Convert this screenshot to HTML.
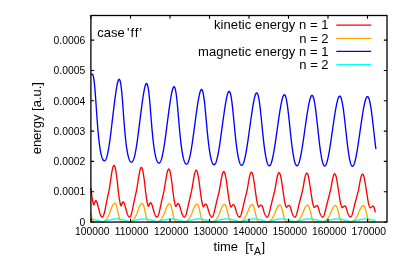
<!DOCTYPE html>
<html><head><meta charset="utf-8"><title>plot</title>
<style>
html,body{margin:0;padding:0;background:#fff;}
body{width:407px;height:271px;overflow:hidden;}
svg{display:block;will-change:transform;font-family:"Liberation Sans",sans-serif;}
.t{font-size:10.35px;fill:#000;}
.l{font-size:13px;fill:#000;}
.c{fill:none;stroke-width:1.35;stroke-linejoin:round;stroke-linecap:butt;}
</style></head><body>
<svg width="407" height="271" viewBox="0 0 407 271">
<rect x="0" y="0" width="407" height="271" fill="#fff"/>
<polyline class="c" stroke="#ff0000" points="90.90,187.83 91.15,190.12 91.40,192.34 91.65,194.42 91.90,196.31 92.15,197.97 92.40,199.39 92.65,200.82 92.90,202.20 93.15,203.40 93.40,204.31 93.65,204.79 93.90,204.74 94.15,204.23 94.40,203.48 94.65,202.71 94.90,202.12 95.15,201.56 95.40,201.03 95.65,200.66 95.90,200.58 96.15,200.77 96.40,201.13 96.65,201.60 96.90,202.09 97.15,202.76 97.40,203.62 97.65,204.60 97.90,205.65 98.15,206.70 98.40,207.72 98.65,208.63 98.90,209.55 99.15,210.50 99.40,211.45 99.65,212.37 99.90,213.23 100.15,214.00 100.40,214.65 100.65,215.16 100.90,215.61 101.15,216.03 101.40,216.40 101.65,216.73 101.90,216.98 102.15,217.20 102.40,217.09 102.65,216.84 102.90,216.49 103.15,216.07 103.40,215.58 103.65,215.06 103.90,214.40 104.15,213.56 104.40,212.60 104.65,211.54 104.90,210.45 105.15,209.34 105.40,208.10 105.65,206.75 105.90,205.41 106.15,204.14 106.40,202.88 106.65,201.62 106.90,200.39 107.15,199.18 107.40,197.99 107.65,196.81 107.90,195.65 108.15,194.49 108.40,193.40 108.65,192.33 108.90,191.21 109.15,189.99 109.40,188.58 109.65,186.94 109.90,185.17 110.15,183.39 110.40,181.70 110.65,180.01 110.90,178.31 111.15,176.61 111.40,174.97 111.65,173.42 111.90,171.98 112.15,170.68 112.40,169.39 112.65,168.23 112.90,167.30 113.15,166.67 113.40,166.11 113.65,165.67 113.90,165.42 114.15,165.45 114.40,165.74 114.65,166.21 114.90,166.79 115.15,167.49 115.40,168.58 115.65,169.93 115.90,171.40 116.15,172.90 116.40,174.55 116.65,176.34 116.90,178.26 117.15,180.28 117.40,182.41 117.65,184.86 117.90,187.50 118.15,189.91 118.40,192.02 118.65,194.07 118.90,196.00 119.15,197.76 119.40,199.31 119.65,200.63 119.90,201.95 120.15,203.23 120.40,204.36 120.65,205.23 120.90,205.73 121.15,205.75 121.40,205.33 121.65,204.66 121.90,203.94 122.15,203.37 122.40,202.87 122.65,202.36 122.90,201.99 123.15,201.87 123.40,202.01 123.65,202.33 123.90,202.75 124.15,203.19 124.40,203.78 124.65,204.54 124.90,205.42 125.15,206.38 125.40,207.36 125.65,208.30 125.90,209.15 126.15,209.99 126.40,210.86 126.65,211.73 126.90,212.59 127.15,213.39 127.40,214.12 127.65,214.74 127.90,215.23 128.15,215.65 128.40,216.04 128.65,216.40 128.90,216.71 129.15,216.95 129.40,217.13 129.65,217.13 129.90,216.91 130.15,216.59 130.40,216.19 130.65,215.74 130.90,215.24 131.15,214.63 131.40,213.84 131.65,212.92 131.90,211.91 132.15,210.85 132.40,209.78 132.65,208.63 132.90,207.36 133.15,206.06 133.40,204.83 133.65,203.62 133.90,202.42 134.15,201.24 134.40,200.07 134.65,198.93 134.90,197.80 135.15,196.68 135.40,195.57 135.65,194.49 135.90,193.45 136.15,192.39 136.40,191.25 136.65,189.98 136.90,188.52 137.15,186.91 137.40,185.25 137.65,183.63 137.90,182.03 138.15,180.39 138.40,178.74 138.65,177.13 138.90,175.59 139.15,174.16 139.40,172.87 139.65,171.63 139.90,170.46 140.15,169.49 140.40,168.81 140.65,168.26 140.90,167.79 141.15,167.48 141.40,167.41 141.65,167.61 141.90,168.01 142.15,168.53 142.40,169.13 142.65,170.05 142.90,171.27 143.15,172.65 143.40,174.07 143.65,175.60 143.90,177.28 144.15,179.08 144.40,180.98 144.65,182.98 144.90,185.14 145.15,187.58 145.40,189.96 145.65,192.02 145.90,194.00 146.15,195.89 146.40,197.67 146.65,199.27 146.90,200.65 147.15,201.92 147.40,203.16 147.65,204.30 147.90,205.25 148.15,205.91 148.40,206.18 148.65,206.01 148.90,205.52 149.15,204.90 149.40,204.32 149.65,203.88 149.90,203.40 150.15,203.00 150.40,202.77 150.65,202.78 150.90,202.97 151.15,203.28 151.40,203.64 151.65,204.07 151.90,204.68 152.15,205.43 152.40,206.27 152.65,207.16 152.90,208.08 153.15,208.97 153.40,209.81 153.65,210.68 153.90,211.54 154.15,212.37 154.40,213.16 154.65,213.89 154.90,214.53 155.15,215.06 155.40,215.49 155.65,215.88 155.90,216.25 156.15,216.57 156.40,216.85 156.65,217.06 156.90,217.19 157.15,217.04 157.40,216.77 157.65,216.42 157.90,216.00 158.15,215.53 158.40,215.01 158.65,214.31 158.90,213.47 159.15,212.51 159.40,211.49 159.65,210.44 159.90,209.39 160.15,208.21 160.40,206.96 160.65,205.73 160.90,204.56 161.15,203.40 161.40,202.26 161.65,201.13 161.90,200.02 162.15,198.92 162.40,197.83 162.65,196.76 162.90,195.69 163.15,194.66 163.40,193.64 163.65,192.59 163.90,191.45 164.15,190.17 164.40,188.74 164.65,187.22 164.90,185.67 165.15,184.15 165.40,182.58 165.65,180.98 165.90,179.38 166.15,177.83 166.40,176.36 166.65,175.03 166.90,173.81 167.15,172.63 167.40,171.56 167.65,170.73 167.90,170.15 168.15,169.64 168.40,169.24 168.65,169.02 168.90,169.05 169.15,169.33 169.40,169.77 169.65,170.30 169.90,170.96 170.15,171.97 170.40,173.22 170.65,174.58 170.90,175.97 171.15,177.51 171.40,179.17 171.65,180.95 171.90,182.82 172.15,184.75 172.40,186.91 172.65,189.21 172.90,191.36 173.15,193.28 173.40,195.15 173.65,196.95 173.90,198.64 174.15,200.16 174.40,201.47 174.65,202.70 174.90,203.85 175.15,204.90 175.40,205.75 175.65,206.31 175.90,206.49 176.15,206.29 176.40,205.84 176.65,205.29 176.90,204.82 177.15,204.41 177.40,203.99 177.65,203.66 177.90,203.50 178.15,203.53 178.40,203.70 178.65,203.96 178.90,204.26 179.15,204.68 179.40,205.26 179.65,205.96 179.90,206.72 180.15,207.56 180.40,208.45 180.65,209.34 180.90,210.20 181.15,211.07 181.40,211.92 181.65,212.70 181.90,213.44 182.15,214.12 182.40,214.72 182.65,215.21 182.90,215.62 183.15,215.99 183.40,216.34 183.65,216.65 183.90,216.90 184.15,217.10 184.40,217.17 184.65,216.99 184.90,216.71 185.15,216.34 185.40,215.92 185.65,215.46 185.90,214.91 186.15,214.18 186.40,213.31 186.65,212.34 186.90,211.32 187.15,210.30 187.40,209.24 187.65,208.08 187.90,206.87 188.15,205.68 188.40,204.55 188.65,203.43 188.90,202.33 189.15,201.24 189.40,200.16 189.65,199.10 189.90,198.04 190.15,196.99 190.40,195.95 190.65,194.95 190.90,193.94 191.15,192.90 191.40,191.79 191.65,190.56 191.90,189.21 192.15,187.78 192.40,186.32 192.65,184.85 192.90,183.31 193.15,181.74 193.40,180.17 193.65,178.65 193.90,177.22 194.15,175.93 194.40,174.75 194.65,173.61 194.90,172.59 195.15,171.81 195.40,171.27 195.65,170.78 195.90,170.40 196.15,170.21 196.40,170.27 196.65,170.55 196.90,170.99 197.15,171.52 197.40,172.18 197.65,173.19 197.90,174.42 198.15,175.75 198.40,177.11 198.65,178.62 198.90,180.25 199.15,181.99 199.40,183.81 199.65,185.68 199.90,187.74 200.15,189.91 200.40,191.94 200.65,193.79 200.90,195.58 201.15,197.33 201.40,199.00 201.65,200.50 201.90,201.81 202.15,203.01 202.40,204.10 202.65,205.10 202.90,205.93 203.15,206.50 203.40,206.72 203.65,206.60 203.90,206.22 204.15,205.75 204.40,205.34 204.65,204.96 204.90,204.58 205.15,204.27 205.40,204.12 205.65,204.12 205.90,204.23 206.15,204.42 206.40,204.67 206.65,205.03 206.90,205.54 207.15,206.17 207.40,206.86 207.65,207.64 207.90,208.51 208.15,209.40 208.40,210.29 208.65,211.18 208.90,212.02 209.15,212.78 209.40,213.49 209.65,214.14 209.90,214.72 210.15,215.21 210.40,215.62 210.65,215.99 210.90,216.33 211.15,216.63 211.40,216.89 211.65,217.09 211.90,217.17 212.15,217.00 212.40,216.73 212.65,216.38 212.90,215.97 213.15,215.52 213.40,214.98 213.65,214.27 213.90,213.42 214.15,212.47 214.40,211.47 214.65,210.46 214.90,209.44 215.15,208.32 215.40,207.14 215.65,205.99 215.90,204.89 216.15,203.81 216.40,202.74 216.65,201.69 216.90,200.65 217.15,199.61 217.40,198.59 217.65,197.57 217.90,196.56 218.15,195.57 218.40,194.58 218.65,193.57 218.90,192.51 219.15,191.37 219.40,190.12 219.65,188.80 219.90,187.43 220.15,186.03 220.40,184.54 220.65,183.01 220.90,181.47 221.15,179.97 221.40,178.55 221.65,177.26 221.90,176.11 222.15,174.99 222.40,173.98 222.65,173.17 222.90,172.63 223.15,172.14 223.40,171.75 223.65,171.53 223.90,171.54 224.15,171.78 224.40,172.18 224.65,172.68 224.90,173.28 225.15,174.20 225.40,175.36 225.65,176.64 225.90,177.94 226.15,179.38 226.40,180.94 226.65,182.61 226.90,184.36 227.15,186.15 227.40,188.07 227.65,190.09 227.90,192.06 228.15,193.85 228.40,195.59 228.65,197.30 228.90,198.95 229.15,200.49 229.40,201.84 229.65,203.04 229.90,204.10 230.15,205.09 230.40,205.94 230.65,206.59 230.90,206.94 231.15,206.97 231.40,206.73 231.65,206.34 231.90,205.96 232.15,205.63 232.40,205.27 232.65,204.97 232.90,204.78 233.15,204.71 233.40,204.75 233.65,204.86 233.90,205.04 234.15,205.30 234.40,205.71 234.65,206.24 234.90,206.84 235.15,207.52 235.40,208.35 235.65,209.24 235.90,210.14 236.15,211.05 236.40,211.91 236.65,212.67 236.90,213.36 237.15,214.01 237.40,214.59 237.65,215.09 237.90,215.51 238.15,215.89 238.40,216.23 238.65,216.54 238.90,216.81 239.15,217.04 239.40,217.19 239.65,217.07 239.90,216.83 240.15,216.51 240.40,216.12 240.65,215.68 240.90,215.20 241.15,214.54 241.40,213.73 241.65,212.80 241.90,211.82 242.15,210.82 242.40,209.83 242.65,208.75 242.90,207.61 243.15,206.47 243.40,205.37 243.65,204.30 243.90,203.26 244.15,202.23 244.40,201.20 244.65,200.18 244.90,199.17 245.15,198.17 245.40,197.17 245.65,196.18 245.90,195.20 246.15,194.22 246.40,193.20 246.65,192.13 246.90,190.99 247.15,189.78 247.40,188.51 247.65,187.17 247.90,185.75 248.15,184.25 248.40,182.72 248.65,181.20 248.90,179.75 249.15,178.41 249.40,177.23 249.65,176.12 249.90,175.06 250.15,174.17 250.40,173.54 250.65,173.04 250.90,172.60 251.15,172.30 251.40,172.20 251.65,172.34 251.90,172.67 252.15,173.13 252.40,173.64 252.65,174.39 252.90,175.44 253.15,176.65 253.40,177.92 253.65,179.26 253.90,180.74 254.15,182.34 254.40,184.02 254.65,185.76 254.90,187.54 255.15,189.43 255.40,191.35 255.65,193.16 255.90,194.87 256.15,196.55 256.40,198.22 256.65,199.82 256.90,201.29 257.15,202.56 257.40,203.67 257.65,204.66 257.90,205.57 258.15,206.33 258.40,206.88 258.65,207.13 258.90,207.10 259.15,206.84 259.40,206.51 259.65,206.20 259.90,205.88 260.15,205.57 260.40,205.32 260.65,205.18 260.90,205.13 261.15,205.15 261.40,205.24 261.65,205.39 261.90,205.67 262.15,206.08 262.40,206.59 262.65,207.15 262.90,207.86 263.15,208.71 263.40,209.63 263.65,210.57 263.90,211.48 264.15,212.31 264.40,213.01 264.65,213.66 264.90,214.26 265.15,214.80 265.40,215.27 265.65,215.67 265.90,216.03 266.15,216.36 266.40,216.65 266.65,216.90 266.90,217.11 267.15,217.20 267.40,216.99 267.65,216.72 267.90,216.37 268.15,215.96 268.40,215.52 268.65,214.97 268.90,214.25 269.15,213.38 269.40,212.42 269.65,211.42 269.90,210.43 270.15,209.43 270.40,208.34 270.65,207.21 270.90,206.09 271.15,205.02 271.40,203.98 271.65,202.96 271.90,201.95 272.15,200.95 272.40,199.95 272.65,198.96 272.90,197.96 273.15,196.97 273.40,196.00 273.65,195.02 273.90,194.03 274.15,193.02 274.40,191.97 274.65,190.88 274.90,189.72 275.15,188.49 275.40,187.17 275.65,185.74 275.90,184.24 276.15,182.71 276.40,181.21 276.65,179.79 276.90,178.50 277.15,177.37 277.40,176.27 277.65,175.27 277.90,174.45 278.15,173.89 278.40,173.40 278.65,173.00 278.90,172.75 279.15,172.72 279.40,172.91 279.65,173.27 279.90,173.74 280.15,174.28 280.40,175.10 280.65,176.18 280.90,177.41 281.15,178.66 281.40,180.02 281.65,181.52 281.90,183.12 282.15,184.79 282.40,186.50 282.65,188.25 282.90,190.07 283.15,191.89 283.40,193.62 283.65,195.29 283.90,196.93 284.15,198.58 284.40,200.17 284.65,201.62 284.90,202.87 285.15,203.91 285.40,204.86 285.65,205.73 285.90,206.47 286.15,206.99 286.40,207.25 286.65,207.25 286.90,207.03 287.15,206.75 287.40,206.48 287.65,206.18 287.90,205.91 288.15,205.69 288.40,205.56 288.65,205.48 288.90,205.46 289.15,205.50 289.40,205.62 289.65,205.87 289.90,206.25 290.15,206.72 290.40,207.23 290.65,207.93 290.90,208.80 291.15,209.75 291.40,210.72 291.65,211.64 291.90,212.45 292.15,213.12 292.40,213.75 292.65,214.34 292.90,214.86 293.15,215.31 293.40,215.71 293.65,216.06 293.90,216.39 294.15,216.68 294.40,216.93 294.65,217.13 294.90,217.20 295.15,216.96 295.40,216.68 295.65,216.32 295.90,215.91 296.15,215.47 296.40,214.91 296.65,214.16 296.90,213.27 297.15,212.30 297.40,211.30 297.65,210.32 297.90,209.31 298.15,208.23 298.40,207.11 298.65,206.01 298.90,204.95 299.15,203.94 299.40,202.93 299.65,201.94 299.90,200.95 300.15,199.96 300.40,198.98 300.65,198.00 300.90,197.02 301.15,196.04 301.40,195.07 301.65,194.08 301.90,193.08 302.15,192.08 302.40,191.04 302.65,189.95 302.90,188.78 303.15,187.49 303.40,186.08 303.65,184.58 303.90,183.06 304.15,181.56 304.40,180.14 304.65,178.85 304.90,177.73 305.15,176.64 305.40,175.65 305.65,174.84 305.90,174.28 306.15,173.80 306.40,173.40 306.65,173.15 306.90,173.11 307.15,173.30 307.40,173.66 307.65,174.12 307.90,174.64 308.15,175.45 308.40,176.51 308.65,177.72 308.90,178.95 309.15,180.29 309.40,181.77 309.65,183.35 309.90,185.00 310.15,186.69 310.40,188.39 310.65,190.12 310.90,191.87 311.15,193.55 311.40,195.19 311.65,196.80 311.90,198.45 312.15,200.06 312.40,201.53 312.65,202.81 312.90,203.85 313.15,204.78 313.40,205.65 313.65,206.40 313.90,206.98 314.15,207.32 314.40,207.41 314.65,207.27 314.90,207.05 315.15,206.81 315.40,206.54 315.65,206.29 315.90,206.08 316.15,205.93 316.40,205.81 316.65,205.73 316.90,205.71 317.15,205.77 317.40,205.96 317.65,206.28 317.90,206.68 318.15,207.13 318.40,207.77 318.65,208.62 318.90,209.58 319.15,210.58 319.40,211.54 319.65,212.38 319.90,213.05 320.15,213.67 320.40,214.24 320.65,214.77 320.90,215.23 321.15,215.64 321.40,216.00 321.65,216.33 321.90,216.62 322.15,216.88 322.40,217.10 322.65,217.20 322.90,217.00 323.15,216.74 323.40,216.40 323.65,216.00 323.90,215.57 324.15,215.04 324.40,214.32 324.65,213.45 324.90,212.50 325.15,211.50 325.40,210.51 325.65,209.53 325.90,208.48 326.15,207.39 326.40,206.31 326.65,205.26 326.90,204.26 327.15,203.28 327.40,202.30 327.65,201.33 327.90,200.36 328.15,199.40 328.40,198.44 328.65,197.47 328.90,196.50 329.15,195.54 329.40,194.57 329.65,193.59 329.90,192.62 330.15,191.66 330.40,190.66 330.65,189.59 330.90,188.38 331.15,187.02 331.40,185.56 331.65,184.05 331.90,182.55 332.15,181.12 332.40,179.80 332.65,178.65 332.90,177.58 333.15,176.57 333.40,175.72 333.65,175.10 333.90,174.62 334.15,174.20 334.40,173.91 334.65,173.80 334.90,173.92 335.15,174.23 335.40,174.65 335.65,175.14 335.90,175.83 336.15,176.81 336.40,177.96 336.65,179.17 336.90,180.44 337.15,181.85 337.40,183.38 337.65,184.98 337.90,186.62 338.15,188.27 338.40,189.91 338.65,191.56 338.90,193.21 339.15,194.81 339.40,196.37 339.65,197.99 339.90,199.62 340.15,201.15 340.40,202.51 340.65,203.63 340.90,204.53 341.15,205.41 341.40,206.20 341.65,206.87 341.90,207.34 342.15,207.59 342.40,207.59 342.65,207.45 342.90,207.26 343.15,207.03 343.40,206.79 343.65,206.58 343.90,206.42 344.15,206.26 344.40,206.12 344.65,206.03 344.90,206.01 345.15,206.09 345.40,206.31 345.65,206.63 345.90,207.01 346.15,207.49 346.40,208.25 346.65,209.18 346.90,210.20 347.15,211.21 347.40,212.12 347.65,212.83 347.90,213.45 348.15,214.02 348.40,214.56 348.65,215.04 348.90,215.47 349.15,215.85 349.40,216.18 349.65,216.49 349.90,216.77 350.15,217.01 350.40,217.19 350.65,217.09 350.90,216.87 351.15,216.56 351.40,216.18 351.65,215.76 351.90,215.31 352.15,214.66 352.40,213.85 352.65,212.92 352.90,211.93 353.15,210.93 353.40,209.96 353.65,208.95 353.90,207.88 354.15,206.80 354.40,205.74 354.65,204.73 354.90,203.76 355.15,202.79 355.40,201.84 355.65,200.88 355.90,199.92 356.15,198.97 356.40,198.01 356.65,197.05 356.90,196.08 357.15,195.11 357.40,194.14 357.65,193.19 357.90,192.27 358.15,191.35 358.40,190.39 358.65,189.31 358.90,188.05 359.15,186.65 359.40,185.17 359.65,183.65 359.90,182.17 360.15,180.78 360.40,179.53 360.65,178.45 360.90,177.41 361.15,176.46 361.40,175.71 361.65,175.19 361.90,174.73 362.15,174.36 362.40,174.13 362.65,174.12 362.90,174.33 363.15,174.69 363.40,175.14 363.65,175.67 363.90,176.48 364.15,177.53 364.40,178.71 364.65,179.91 364.90,181.24 365.15,182.69 365.40,184.24 365.65,185.85 365.90,187.47 366.15,189.07 366.40,190.63 366.65,192.22 366.90,193.81 367.15,195.36 367.40,196.92 367.65,198.55 367.90,200.16 368.15,201.66 368.40,202.96 368.65,203.95 368.90,204.82 369.15,205.66 369.40,206.42 369.65,207.05 369.90,207.51 370.15,207.74 370.40,207.74 370.65,207.63 370.90,207.45 371.15,207.25 371.40,207.04 371.65,206.86 371.90,206.69 372.15,206.50 372.40,206.33 372.65,206.21 372.90,206.17 373.15,206.26 373.40,206.47 373.65,206.76 373.90,207.09 374.15,207.63 374.40,208.44 374.65,209.43 374.90,210.49 375.15,211.51 375.40,212.37"/>
<polyline class="c" stroke="#ffa500" points="90.90,213.22 91.15,214.50 91.40,215.75 91.65,216.88 91.90,217.83 92.15,218.67 92.40,219.48 92.65,220.18 92.90,220.71 93.15,221.03 93.40,221.26 93.65,221.45 93.90,221.61 94.15,221.72 94.40,221.79 94.65,221.83 94.90,221.87 95.15,221.89 95.40,221.90 95.65,221.90 95.90,221.90 96.15,221.90 96.40,221.90 96.65,221.90 96.90,221.90 97.15,221.90 97.40,221.90 97.65,221.90 97.90,221.90 98.15,221.90 98.40,221.90 98.65,221.90 98.90,221.90 99.15,221.90 99.40,221.90 99.65,221.90 99.90,221.90 100.15,221.90 100.40,221.90 100.65,221.90 100.90,221.90 101.15,221.90 101.40,221.90 101.65,221.90 101.90,221.90 102.15,221.87 102.40,221.83 102.65,221.78 102.90,221.71 103.15,221.64 103.40,221.54 103.65,221.43 103.90,221.30 104.15,221.17 104.40,221.02 104.65,220.86 104.90,220.69 105.15,220.50 105.40,220.30 105.65,220.07 105.90,219.83 106.15,219.57 106.40,219.29 106.65,219.00 106.90,218.66 107.15,218.29 107.40,217.88 107.65,217.43 107.90,216.96 108.15,216.47 108.40,215.96 108.65,215.43 108.90,214.90 109.15,214.35 109.40,213.73 109.65,213.07 109.90,212.37 110.15,211.65 110.40,210.92 110.65,210.19 110.90,209.48 111.15,208.78 111.40,208.13 111.65,207.52 111.90,206.97 112.15,206.42 112.40,205.88 112.65,205.37 112.90,204.90 113.15,204.49 113.40,204.16 113.65,203.91 113.90,203.68 114.15,203.47 114.40,203.31 114.65,203.22 114.90,203.21 115.15,203.35 115.40,203.61 115.65,203.96 115.90,204.36 116.15,204.83 116.40,205.55 116.65,206.46 116.90,207.51 117.15,208.64 117.40,209.79 117.65,210.89 117.90,212.00 118.15,213.23 118.40,214.49 118.65,215.72 118.90,216.85 119.15,217.80 119.40,218.63 119.65,219.43 119.90,220.13 120.15,220.68 120.40,221.01 120.65,221.24 120.90,221.44 121.15,221.59 121.40,221.71 121.65,221.79 121.90,221.83 122.15,221.86 122.40,221.89 122.65,221.90 122.90,221.90 123.15,221.90 123.40,221.90 123.65,221.90 123.90,221.90 124.15,221.90 124.40,221.90 124.65,221.90 124.90,221.90 125.15,221.90 125.40,221.90 125.65,221.90 125.90,221.90 126.15,221.90 126.40,221.90 126.65,221.90 126.90,221.90 127.15,221.90 127.40,221.90 127.65,221.90 127.90,221.90 128.15,221.90 128.40,221.90 128.65,221.90 128.90,221.90 129.15,221.90 129.40,221.88 129.65,221.84 129.90,221.79 130.15,221.73 130.40,221.66 130.65,221.57 130.90,221.46 131.15,221.34 131.40,221.21 131.65,221.07 131.90,220.92 132.15,220.75 132.40,220.57 132.65,220.37 132.90,220.15 133.15,219.92 133.40,219.67 133.65,219.40 133.90,219.12 134.15,218.80 134.40,218.44 134.65,218.05 134.90,217.62 135.15,217.16 135.40,216.68 135.65,216.19 135.90,215.67 136.15,215.15 136.40,214.62 136.65,214.03 136.90,213.39 137.15,212.72 137.40,212.01 137.65,211.30 137.90,210.58 138.15,209.87 138.40,209.18 138.65,208.52 138.90,207.91 139.15,207.35 139.40,206.82 139.65,206.29 139.90,205.77 140.15,205.29 140.40,204.87 140.65,204.52 140.90,204.25 141.15,204.02 141.40,203.81 141.65,203.64 141.90,203.52 142.15,203.48 142.40,203.57 142.65,203.79 142.90,204.10 143.15,204.48 143.40,204.90 143.65,205.51 143.90,206.35 144.15,207.34 144.40,208.43 144.65,209.56 144.90,210.66 145.15,211.73 145.40,212.90 145.65,214.13 145.90,215.36 146.15,216.52 146.40,217.53 146.65,218.36 146.90,219.17 147.15,219.90 147.40,220.51 147.65,220.92 147.90,221.16 148.15,221.37 148.40,221.54 148.65,221.67 148.90,221.77 149.15,221.82 149.40,221.85 149.65,221.88 149.90,221.90 150.15,221.90 150.40,221.90 150.65,221.90 150.90,221.90 151.15,221.90 151.40,221.90 151.65,221.90 151.90,221.90 152.15,221.90 152.40,221.90 152.65,221.90 152.90,221.90 153.15,221.90 153.40,221.90 153.65,221.90 153.90,221.90 154.15,221.90 154.40,221.90 154.65,221.90 154.90,221.90 155.15,221.90 155.40,221.90 155.65,221.90 155.90,221.90 156.15,221.90 156.40,221.90 156.65,221.89 156.90,221.86 157.15,221.82 157.40,221.76 157.65,221.70 157.90,221.62 158.15,221.53 158.40,221.41 158.65,221.29 158.90,221.15 159.15,221.01 159.40,220.85 159.65,220.68 159.90,220.50 160.15,220.29 160.40,220.07 160.65,219.84 160.90,219.58 161.15,219.31 161.40,219.02 161.65,218.69 161.90,218.32 162.15,217.92 162.40,217.48 162.65,217.02 162.90,216.54 163.15,216.05 163.40,215.54 163.65,215.03 163.90,214.48 164.15,213.88 164.40,213.24 164.65,212.56 164.90,211.86 165.15,211.16 165.40,210.45 165.65,209.76 165.90,209.10 166.15,208.47 166.40,207.89 166.65,207.36 166.90,206.83 167.15,206.31 167.40,205.82 167.65,205.37 167.90,204.98 168.15,204.67 168.40,204.43 168.65,204.21 168.90,204.01 169.15,203.86 169.40,203.77 169.65,203.77 169.90,203.91 170.15,204.17 170.40,204.50 170.65,204.89 170.90,205.35 171.15,206.04 171.40,206.92 171.65,207.94 171.90,209.03 172.15,210.13 172.40,211.20 172.65,212.27 172.90,213.45 173.15,214.67 173.40,215.86 173.65,216.95 173.90,217.88 174.15,218.69 174.40,219.46 174.65,220.15 174.90,220.69 175.15,221.02 175.40,221.24 175.65,221.43 175.90,221.59 176.15,221.71 176.40,221.79 176.65,221.83 176.90,221.86 177.15,221.89 177.40,221.90 177.65,221.90 177.90,221.90 178.15,221.90 178.40,221.90 178.65,221.90 178.90,221.90 179.15,221.90 179.40,221.90 179.65,221.90 179.90,221.90 180.15,221.90 180.40,221.90 180.65,221.90 180.90,221.90 181.15,221.90 181.40,221.90 181.65,221.90 181.90,221.90 182.15,221.90 182.40,221.90 182.65,221.90 182.90,221.90 183.15,221.90 183.40,221.90 183.65,221.90 183.90,221.90 184.15,221.89 184.40,221.85 184.65,221.81 184.90,221.75 185.15,221.69 185.40,221.61 185.65,221.51 185.90,221.39 186.15,221.27 186.40,221.13 186.65,220.99 186.90,220.84 187.15,220.67 187.40,220.48 187.65,220.28 187.90,220.06 188.15,219.82 188.40,219.57 188.65,219.30 188.90,219.01 189.15,218.68 189.40,218.31 189.65,217.90 189.90,217.47 190.15,217.02 190.40,216.55 190.65,216.06 190.90,215.56 191.15,215.05 191.40,214.50 191.65,213.91 191.90,213.27 192.15,212.60 192.40,211.92 192.65,211.22 192.90,210.53 193.15,209.86 193.40,209.21 193.65,208.59 193.90,208.03 194.15,207.52 194.40,207.00 194.65,206.49 194.90,206.01 195.15,205.57 195.40,205.20 195.65,204.90 195.90,204.67 196.15,204.46 196.40,204.27 196.65,204.12 196.90,204.04 197.15,204.06 197.40,204.21 197.65,204.47 197.90,204.80 198.15,205.18 198.40,205.65 198.65,206.35 198.90,207.23 199.15,208.23 199.40,209.31 199.65,210.39 199.90,211.43 200.15,212.50 200.40,213.66 200.65,214.86 200.90,216.02 201.15,217.09 201.40,217.99 201.65,218.78 201.90,219.53 202.15,220.20 202.40,220.72 202.65,221.04 202.90,221.26 203.15,221.45 203.40,221.60 203.65,221.71 203.90,221.79 204.15,221.83 204.40,221.86 204.65,221.89 204.90,221.90 205.15,221.90 205.40,221.90 205.65,221.90 205.90,221.90 206.15,221.90 206.40,221.90 206.65,221.90 206.90,221.90 207.15,221.90 207.40,221.90 207.65,221.90 207.90,221.90 208.15,221.90 208.40,221.90 208.65,221.90 208.90,221.90 209.15,221.90 209.40,221.90 209.65,221.90 209.90,221.90 210.15,221.90 210.40,221.90 210.65,221.90 210.90,221.90 211.15,221.90 211.40,221.90 211.65,221.89 211.90,221.86 212.15,221.81 212.40,221.76 212.65,221.70 212.90,221.62 213.15,221.52 213.40,221.41 213.65,221.29 213.90,221.16 214.15,221.02 214.40,220.87 214.65,220.70 214.90,220.52 215.15,220.32 215.40,220.11 215.65,219.88 215.90,219.63 216.15,219.37 216.40,219.08 216.65,218.76 216.90,218.40 217.15,218.01 217.40,217.59 217.65,217.15 217.90,216.68 218.15,216.20 218.40,215.71 218.65,215.22 218.90,214.69 219.15,214.11 219.40,213.49 219.65,212.83 219.90,212.16 220.15,211.48 220.40,210.80 220.65,210.13 220.90,209.49 221.15,208.89 221.40,208.33 221.65,207.81 221.90,207.31 222.15,206.81 222.40,206.33 222.65,205.89 222.90,205.51 223.15,205.21 223.40,204.98 223.65,204.76 223.90,204.57 224.15,204.42 224.40,204.33 224.65,204.32 224.90,204.44 225.15,204.68 225.40,205.00 225.65,205.37 225.90,205.80 226.15,206.44 226.40,207.27 226.65,208.24 226.90,209.28 227.15,210.35 227.40,211.39 227.65,212.41 227.90,213.54 228.15,214.71 228.40,215.87 228.65,216.94 228.90,217.87 229.15,218.65 229.40,219.40 229.65,220.09 229.90,220.64 230.15,221.00 230.40,221.22 230.65,221.41 230.90,221.57 231.15,221.69 231.40,221.78 231.65,221.82 231.90,221.86 232.15,221.88 232.40,221.90 232.65,221.90 232.90,221.90 233.15,221.90 233.40,221.90 233.65,221.90 233.90,221.90 234.15,221.90 234.40,221.90 234.65,221.90 234.90,221.90 235.15,221.90 235.40,221.90 235.65,221.90 235.90,221.90 236.15,221.90 236.40,221.90 236.65,221.90 236.90,221.90 237.15,221.90 237.40,221.90 237.65,221.90 237.90,221.90 238.15,221.90 238.40,221.90 238.65,221.90 238.90,221.90 239.15,221.90 239.40,221.87 239.65,221.83 239.90,221.78 240.15,221.72 240.40,221.65 240.65,221.56 240.90,221.46 241.15,221.34 241.40,221.21 241.65,221.08 241.90,220.94 242.15,220.78 242.40,220.61 242.65,220.42 242.90,220.21 243.15,219.99 243.40,219.76 243.65,219.51 243.90,219.24 244.15,218.93 244.40,218.60 244.65,218.22 244.90,217.82 245.15,217.39 245.40,216.94 245.65,216.48 245.90,216.00 246.15,215.52 246.40,215.02 246.65,214.47 246.90,213.87 247.15,213.24 247.40,212.59 247.65,211.92 247.90,211.25 248.15,210.59 248.40,209.95 248.65,209.34 248.90,208.77 249.15,208.25 249.40,207.75 249.65,207.26 249.90,206.78 250.15,206.33 250.40,205.93 250.65,205.59 250.90,205.34 251.15,205.13 251.40,204.93 251.65,204.76 251.90,204.64 252.15,204.59 252.40,204.65 252.65,204.83 252.90,205.11 253.15,205.46 253.40,205.83 253.65,206.36 253.90,207.09 254.15,207.98 254.40,208.98 254.65,210.03 254.90,211.07 255.15,212.05 255.40,213.11 255.65,214.25 255.90,215.40 256.15,216.51 256.40,217.50 256.65,218.32 256.90,219.07 257.15,219.79 257.40,220.40 257.65,220.86 257.90,221.13 258.15,221.33 258.40,221.50 258.65,221.64 258.90,221.74 259.15,221.80 259.40,221.84 259.65,221.87 259.90,221.89 260.15,221.90 260.40,221.90 260.65,221.90 260.90,221.90 261.15,221.90 261.40,221.90 261.65,221.90 261.90,221.90 262.15,221.90 262.40,221.90 262.65,221.90 262.90,221.90 263.15,221.90 263.40,221.90 263.65,221.90 263.90,221.90 264.15,221.90 264.40,221.90 264.65,221.90 264.90,221.90 265.15,221.90 265.40,221.90 265.65,221.90 265.90,221.90 266.15,221.90 266.40,221.90 266.65,221.90 266.90,221.89 267.15,221.86 267.40,221.81 267.65,221.76 267.90,221.70 268.15,221.62 268.40,221.53 268.65,221.42 268.90,221.30 269.15,221.18 269.40,221.04 269.65,220.90 269.90,220.74 270.15,220.56 270.40,220.37 270.65,220.17 270.90,219.94 271.15,219.71 271.40,219.46 271.65,219.18 271.90,218.87 272.15,218.53 272.40,218.15 272.65,217.75 272.90,217.32 273.15,216.88 273.40,216.42 273.65,215.94 273.90,215.47 274.15,214.96 274.40,214.41 274.65,213.81 274.90,213.18 275.15,212.54 275.40,211.88 275.65,211.23 275.90,210.58 276.15,209.96 276.40,209.37 276.65,208.82 276.90,208.33 277.15,207.84 277.40,207.36 277.65,206.89 277.90,206.46 278.15,206.09 278.40,205.78 278.65,205.55 278.90,205.34 279.15,205.15 279.40,205.00 279.65,204.90 279.90,204.87 280.15,204.96 280.40,205.17 280.65,205.46 280.90,205.81 281.15,206.19 281.40,206.77 281.65,207.53 281.90,208.44 282.15,209.43 282.40,210.46 282.65,211.47 282.90,212.44 283.15,213.50 283.40,214.63 283.65,215.75 283.90,216.82 284.15,217.76 284.40,218.53 284.65,219.27 284.90,219.96 285.15,220.53 285.40,220.94 285.65,221.18 285.90,221.37 286.15,221.54 286.40,221.66 286.65,221.76 286.90,221.81 287.15,221.85 287.40,221.87 287.65,221.89 287.90,221.90 288.15,221.90 288.40,221.90 288.65,221.90 288.90,221.90 289.15,221.90 289.40,221.90 289.65,221.90 289.90,221.90 290.15,221.90 290.40,221.90 290.65,221.90 290.90,221.90 291.15,221.90 291.40,221.90 291.65,221.90 291.90,221.90 292.15,221.90 292.40,221.90 292.65,221.90 292.90,221.90 293.15,221.90 293.40,221.90 293.65,221.90 293.90,221.90 294.15,221.90 294.40,221.90 294.65,221.89 294.90,221.85 295.15,221.81 295.40,221.76 295.65,221.70 295.90,221.62 296.15,221.53 296.40,221.42 296.65,221.30 296.90,221.18 297.15,221.05 297.40,220.90 297.65,220.74 297.90,220.57 298.15,220.38 298.40,220.18 298.65,219.96 298.90,219.73 299.15,219.48 299.40,219.21 299.65,218.90 299.90,218.56 300.15,218.19 300.40,217.79 300.65,217.37 300.90,216.94 301.15,216.48 301.40,216.02 301.65,215.55 301.90,215.06 302.15,214.51 302.40,213.92 302.65,213.31 302.90,212.67 303.15,212.03 303.40,211.39 303.65,210.76 303.90,210.15 304.15,209.57 304.40,209.03 304.65,208.54 304.90,208.07 305.15,207.59 305.40,207.13 305.65,206.71 305.90,206.34 306.15,206.04 306.40,205.82 306.65,205.61 306.90,205.43 307.15,205.27 307.40,205.17 307.65,205.15 307.90,205.23 308.15,205.44 308.40,205.72 308.65,206.06 308.90,206.44 309.15,206.99 309.40,207.73 309.65,208.62 309.90,209.59 310.15,210.60 310.40,211.59 310.65,212.54 310.90,213.58 311.15,214.68 311.40,215.79 311.65,216.84 311.90,217.77 312.15,218.54 312.40,219.27 312.65,219.94 312.90,220.52 313.15,220.93 313.40,221.18 313.65,221.37 313.90,221.53 314.15,221.66 314.40,221.75 314.65,221.81 314.90,221.85 315.15,221.87 315.40,221.89 315.65,221.90 315.90,221.90 316.15,221.90 316.40,221.90 316.65,221.90 316.90,221.90 317.15,221.90 317.40,221.90 317.65,221.90 317.90,221.90 318.15,221.90 318.40,221.90 318.65,221.90 318.90,221.90 319.15,221.90 319.40,221.90 319.65,221.90 319.90,221.90 320.15,221.90 320.40,221.90 320.65,221.90 320.90,221.90 321.15,221.90 321.40,221.90 321.65,221.90 321.90,221.90 322.15,221.90 322.40,221.90 322.65,221.86 322.90,221.82 323.15,221.77 323.40,221.71 323.65,221.64 323.90,221.55 324.15,221.45 324.40,221.34 324.65,221.21 324.90,221.09 325.15,220.95 325.40,220.80 325.65,220.63 325.90,220.45 326.15,220.25 326.40,220.04 326.65,219.81 326.90,219.57 327.15,219.31 327.40,219.02 327.65,218.69 327.90,218.34 328.15,217.95 328.40,217.55 328.65,217.12 328.90,216.68 329.15,216.23 329.40,215.77 329.65,215.29 329.90,214.77 330.15,214.20 330.40,213.60 330.65,212.98 330.90,212.35 331.15,211.72 331.40,211.10 331.65,210.49 331.90,209.92 332.15,209.38 332.40,208.89 332.65,208.42 332.90,207.96 333.15,207.50 333.40,207.08 333.65,206.70 333.90,206.38 334.15,206.14 334.40,205.94 334.65,205.75 334.90,205.59 335.15,205.47 335.40,205.42 335.65,205.47 335.90,205.64 336.15,205.90 336.40,206.22 336.65,206.57 336.90,207.04 337.15,207.72 337.40,208.55 337.65,209.48 337.90,210.46 338.15,211.45 338.40,212.39 338.65,213.37 338.90,214.44 339.15,215.53 339.40,216.58 339.65,217.54 339.90,218.35 340.15,219.06 340.40,219.75 340.65,220.36 340.90,220.83 341.15,221.11 341.40,221.31 341.65,221.48 341.90,221.62 342.15,221.73 342.40,221.80 342.65,221.83 342.90,221.86 343.15,221.89 343.40,221.90 343.65,221.90 343.90,221.90 344.15,221.90 344.40,221.90 344.65,221.90 344.90,221.90 345.15,221.90 345.40,221.90 345.65,221.90 345.90,221.90 346.15,221.90 346.40,221.90 346.65,221.90 346.90,221.90 347.15,221.90 347.40,221.90 347.65,221.90 347.90,221.90 348.15,221.90 348.40,221.90 348.65,221.90 348.90,221.90 349.15,221.90 349.40,221.90 349.65,221.90 349.90,221.90 350.15,221.90 350.40,221.88 350.65,221.84 350.90,221.79 351.15,221.74 351.40,221.68 351.65,221.60 351.90,221.50 352.15,221.40 352.40,221.28 352.65,221.16 352.90,221.03 353.15,220.89 353.40,220.73 353.65,220.56 353.90,220.37 354.15,220.17 354.40,219.96 354.65,219.73 354.90,219.49 355.15,219.22 355.40,218.91 355.65,218.58 355.90,218.21 356.15,217.83 356.40,217.42 356.65,216.99 356.90,216.55 357.15,216.11 357.40,215.65 357.65,215.16 357.90,214.63 358.15,214.06 358.40,213.46 358.65,212.85 358.90,212.23 359.15,211.61 359.40,211.01 359.65,210.42 359.90,209.88 360.15,209.37 360.40,208.91 360.65,208.44 360.90,207.99 361.15,207.55 361.40,207.16 361.65,206.81 361.90,206.53 362.15,206.32 362.40,206.13 362.65,205.95 362.90,205.81 363.15,205.72 363.40,205.70 363.65,205.80 363.90,206.01 364.15,206.29 364.40,206.62 364.65,206.99 364.90,207.54 365.15,208.27 365.40,209.13 365.65,210.07 365.90,211.04 366.15,211.99 366.40,212.91 366.65,213.91 366.90,214.98 367.15,216.04 367.40,217.04 367.65,217.94 367.90,218.67 368.15,219.37 368.40,220.02 368.65,220.57 368.90,220.97 369.15,221.20 369.40,221.38 369.65,221.54 369.90,221.67 370.15,221.76 370.40,221.81 370.65,221.85 370.90,221.87 371.15,221.89 371.40,221.90 371.65,221.90 371.90,221.90 372.15,221.90 372.40,221.90 372.65,221.90 372.90,221.90 373.15,221.90 373.40,221.90 373.65,221.90 373.90,221.90 374.15,221.90 374.40,221.90 374.65,221.90 374.90,221.90 375.15,221.90 375.40,221.90"/>
<polyline class="c" stroke="#0000ff" points="90.90,74.87 91.15,74.62 91.40,74.42 91.65,74.27 91.90,74.16 92.15,74.11 92.40,74.14 92.65,74.39 92.90,74.88 93.15,75.63 93.40,76.65 93.65,77.95 93.90,79.54 94.15,81.43 94.40,83.62 94.65,86.11 94.90,88.87 95.15,91.88 95.40,95.11 95.65,98.52 95.90,102.06 96.15,105.68 96.40,109.32 96.65,112.95 96.90,116.51 97.15,119.97 97.40,123.31 97.65,126.50 97.90,129.53 98.15,132.39 98.40,135.08 98.65,137.60 98.90,139.96 99.15,142.14 99.40,144.17 99.65,146.05 99.90,147.78 100.15,149.38 100.40,150.84 100.65,152.18 100.90,153.41 101.15,154.52 101.40,155.53 101.65,156.43 101.90,157.25 102.15,157.97 102.40,158.60 102.65,159.16 102.90,159.63 103.15,160.02 103.40,160.34 103.65,160.58 103.90,160.75 104.15,160.84 104.40,160.86 104.65,160.81 104.90,160.68 105.15,160.47 105.40,160.18 105.65,159.81 105.90,159.36 106.15,158.81 106.40,158.18 106.65,157.46 106.90,156.65 107.15,155.75 107.40,154.75 107.65,153.66 107.90,152.47 108.15,151.20 108.40,149.84 108.65,148.39 108.90,146.87 109.15,145.26 109.40,143.59 109.65,141.85 109.90,140.04 110.15,138.18 110.40,136.27 110.65,134.32 110.90,132.32 111.15,130.29 111.40,128.23 111.65,126.15 111.90,124.04 112.15,121.93 112.40,119.81 112.65,117.68 112.90,115.55 113.15,113.44 113.40,111.33 113.65,109.24 113.90,107.17 114.15,105.13 114.40,103.12 114.65,101.14 114.90,99.21 115.15,97.32 115.40,95.49 115.65,93.72 115.90,92.01 116.15,90.37 116.40,88.81 116.65,87.34 116.90,85.95 117.15,84.67 117.40,83.51 117.65,82.46 117.90,81.54 118.15,80.76 118.40,80.13 118.65,79.67 118.90,79.39 119.15,79.30 119.40,79.40 119.65,79.71 119.90,80.25 120.15,81.03 120.40,82.07 120.65,83.36 120.90,84.93 121.15,86.78 121.40,88.90 121.65,91.29 121.90,93.92 122.15,96.79 122.40,99.85 122.65,103.08 122.90,106.41 123.15,109.81 123.40,113.23 123.65,116.62 123.90,119.96 124.15,123.20 124.40,126.33 124.65,129.32 124.90,132.17 125.15,134.86 125.40,137.39 125.65,139.76 125.90,141.98 126.15,144.05 126.40,145.97 126.65,147.75 126.90,149.40 127.15,150.92 127.40,152.32 127.65,153.60 127.90,154.77 128.15,155.84 128.40,156.81 128.65,157.69 128.90,158.48 129.15,159.19 129.40,159.81 129.65,160.35 129.90,160.83 130.15,161.22 130.40,161.54 130.65,161.80 130.90,161.98 131.15,162.10 131.40,162.14 131.65,162.12 131.90,162.03 132.15,161.87 132.40,161.63 132.65,161.32 132.90,160.93 133.15,160.47 133.40,159.92 133.65,159.29 133.90,158.57 134.15,157.77 134.40,156.89 134.65,155.91 134.90,154.85 135.15,153.71 135.40,152.48 135.65,151.17 135.90,149.79 136.15,148.33 136.40,146.80 136.65,145.20 136.90,143.55 137.15,141.83 137.40,140.07 137.65,138.26 137.90,136.40 138.15,134.51 138.40,132.59 138.65,130.64 138.90,128.67 139.15,126.68 139.40,124.68 139.65,122.67 139.90,120.66 140.15,118.65 140.40,116.65 140.65,114.65 140.90,112.67 141.15,110.71 141.40,108.77 141.65,106.86 141.90,104.99 142.15,103.15 142.40,101.35 142.65,99.60 142.90,97.91 143.15,96.27 143.40,94.70 143.65,93.19 143.90,91.77 144.15,90.43 144.40,89.18 144.65,88.03 144.90,86.98 145.15,86.06 145.40,85.25 145.65,84.59 145.90,84.07 146.15,83.71 146.40,83.52 146.65,83.52 146.90,83.69 147.15,84.07 147.40,84.66 147.65,85.47 147.90,86.51 148.15,87.80 148.40,89.32 148.65,91.10 148.90,93.11 149.15,95.36 149.40,97.83 149.65,100.49 149.90,103.32 150.15,106.29 150.40,109.36 150.65,112.48 150.90,115.64 151.15,118.78 151.40,121.87 151.65,124.90 151.90,127.83 152.15,130.65 152.40,133.35 152.65,135.92 152.90,138.35 153.15,140.65 153.40,142.81 153.65,144.83 153.90,146.72 154.15,148.48 154.40,150.12 154.65,151.64 154.90,153.04 155.15,154.33 155.40,155.52 155.65,156.61 155.90,157.60 156.15,158.49 156.40,159.30 156.65,160.02 156.90,160.66 157.15,161.23 157.40,161.71 157.65,162.12 157.90,162.45 158.15,162.71 158.40,162.90 158.65,163.01 158.90,163.05 159.15,163.02 159.40,162.92 159.65,162.74 159.90,162.49 160.15,162.15 160.40,161.74 160.65,161.25 160.90,160.68 161.15,160.03 161.40,159.29 161.65,158.47 161.90,157.57 162.15,156.58 162.40,155.51 162.65,154.37 162.90,153.14 163.15,151.84 163.40,150.47 163.65,149.03 163.90,147.52 164.15,145.96 164.40,144.33 164.65,142.66 164.90,140.94 165.15,139.18 165.40,137.37 165.65,135.54 165.90,133.67 166.15,131.79 166.40,129.88 166.65,127.96 166.90,126.02 167.15,124.08 167.40,122.14 167.65,120.21 167.90,118.27 168.15,116.35 168.40,114.45 168.65,112.57 168.90,110.70 169.15,108.87 169.40,107.07 169.65,105.31 169.90,103.59 170.15,101.92 170.40,100.30 170.65,98.74 170.90,97.24 171.15,95.81 171.40,94.46 171.65,93.19 171.90,92.00 172.15,90.92 172.40,89.93 172.65,89.06 172.90,88.31 173.15,87.69 173.40,87.21 173.65,86.89 173.90,86.72 174.15,86.72 174.40,86.90 174.65,87.27 174.90,87.83 175.15,88.59 175.40,89.57 175.65,90.76 175.90,92.18 176.15,93.82 176.40,95.68 176.65,97.74 176.90,100.01 177.15,102.45 177.40,105.06 177.65,107.79 177.90,110.63 178.15,113.54 178.40,116.48 178.65,119.44 178.90,122.37 179.15,125.26 179.40,128.08 179.65,130.81 179.90,133.45 180.15,135.98 180.40,138.40 180.65,140.69 180.90,142.87 181.15,144.92 181.40,146.84 181.65,148.65 181.90,150.34 182.15,151.92 182.40,153.38 182.65,154.74 182.90,155.99 183.15,157.14 183.40,158.20 183.65,159.16 183.90,160.03 184.15,160.81 184.40,161.50 184.65,162.11 184.90,162.64 185.15,163.09 185.40,163.45 185.65,163.74 185.90,163.95 186.15,164.08 186.40,164.13 186.65,164.11 186.90,164.01 187.15,163.83 187.40,163.57 187.65,163.23 187.90,162.81 188.15,162.31 188.40,161.73 188.65,161.06 188.90,160.32 189.15,159.49 189.40,158.58 189.65,157.59 189.90,156.52 190.15,155.38 190.40,154.16 190.65,152.87 190.90,151.51 191.15,150.09 191.40,148.61 191.65,147.07 191.90,145.47 192.15,143.83 192.40,142.14 192.65,140.42 192.90,138.65 193.15,136.86 193.40,135.04 193.65,133.20 193.90,131.34 194.15,129.47 194.40,127.59 194.65,125.70 194.90,123.81 195.15,121.93 195.40,120.05 195.65,118.18 195.90,116.34 196.15,114.51 196.40,112.70 196.65,110.93 196.90,109.18 197.15,107.48 197.40,105.82 197.65,104.20 197.90,102.64 198.15,101.13 198.40,99.68 198.65,98.31 198.90,97.00 199.15,95.78 199.40,94.64 199.65,93.59 199.90,92.65 200.15,91.81 200.40,91.09 200.65,90.49 200.90,90.02 201.15,89.70 201.40,89.53 201.65,89.51 201.90,89.66 202.15,89.98 202.40,90.47 202.65,91.16 202.90,92.03 203.15,93.11 203.40,94.39 203.65,95.86 203.90,97.54 204.15,99.40 204.40,101.45 204.65,103.67 204.90,106.04 205.15,108.54 205.40,111.15 205.65,113.84 205.90,116.58 206.15,119.35 206.40,122.13 206.65,124.88 206.90,127.60 207.15,130.25 207.40,132.84 207.65,135.34 207.90,137.74 208.15,140.05 208.40,142.24 208.65,144.33 208.90,146.31 209.15,148.17 209.40,149.93 209.65,151.58 209.90,153.11 210.15,154.55 210.40,155.88 210.65,157.11 210.90,158.24 211.15,159.27 211.40,160.21 211.65,161.06 211.90,161.82 212.15,162.50 212.40,163.08 212.65,163.58 212.90,163.99 213.15,164.32 213.40,164.57 213.65,164.73 213.90,164.81 214.15,164.81 214.40,164.73 214.65,164.57 214.90,164.32 215.15,163.99 215.40,163.58 215.65,163.08 215.90,162.50 216.15,161.84 216.40,161.10 216.65,160.28 216.90,159.37 217.15,158.39 217.40,157.33 217.65,156.20 217.90,155.00 218.15,153.72 218.40,152.38 218.65,150.98 218.90,149.52 219.15,148.00 219.40,146.44 219.65,144.82 219.90,143.17 220.15,141.47 220.40,139.74 220.65,137.98 220.90,136.20 221.15,134.39 221.40,132.57 221.65,130.73 221.90,128.89 222.15,127.04 222.40,125.19 222.65,123.34 222.90,121.50 223.15,119.68 223.40,117.87 223.65,116.07 223.90,114.31 224.15,112.57 224.40,110.86 224.65,109.19 224.90,107.56 225.15,105.98 225.40,104.45 225.65,102.97 225.90,101.55 226.15,100.20 226.40,98.92 226.65,97.72 226.90,96.60 227.15,95.57 227.40,94.64 227.65,93.81 227.90,93.09 228.15,92.48 228.40,92.00 228.65,91.66 228.90,91.46 229.15,91.40 229.40,91.50 229.65,91.76 229.90,92.18 230.15,92.77 230.40,93.54 230.65,94.50 230.90,95.63 231.15,96.95 231.40,98.45 231.65,100.12 231.90,101.97 232.15,103.97 232.40,106.13 232.65,108.41 232.90,110.81 233.15,113.29 233.40,115.85 233.65,118.46 233.90,121.09 234.15,123.73 234.40,126.35 234.65,128.94 234.90,131.48 235.15,133.97 235.40,136.38 235.65,138.70 235.90,140.94 236.15,143.09 236.40,145.13 236.65,147.08 236.90,148.92 237.15,150.66 237.40,152.30 237.65,153.83 237.90,155.26 238.15,156.59 238.40,157.82 238.65,158.96 238.90,159.99 239.15,160.93 239.40,161.78 239.65,162.53 239.90,163.19 240.15,163.76 240.40,164.25 240.65,164.64 240.90,164.94 241.15,165.16 241.40,165.28 241.65,165.32 241.90,165.28 242.15,165.15 242.40,164.93 242.65,164.62 242.90,164.23 243.15,163.75 243.40,163.19 243.65,162.55 243.90,161.82 244.15,161.01 244.40,160.12 244.65,159.16 244.90,158.11 245.15,157.00 245.40,155.81 245.65,154.56 245.90,153.24 246.15,151.86 246.40,150.42 246.65,148.93 246.90,147.39 247.15,145.80 247.40,144.18 247.65,142.51 247.90,140.81 248.15,139.08 248.40,137.32 248.65,135.55 248.90,133.75 249.15,131.95 249.40,130.13 249.65,128.31 249.90,126.49 250.15,124.67 250.40,122.86 250.65,121.07 250.90,119.28 251.15,117.52 251.40,115.78 251.65,114.06 251.90,112.38 252.15,110.74 252.40,109.13 252.65,107.57 252.90,106.06 253.15,104.60 253.40,103.20 253.65,101.87 253.90,100.60 254.15,99.41 254.40,98.29 254.65,97.27 254.90,96.33 255.15,95.49 255.40,94.76 255.65,94.14 255.90,93.64 256.15,93.26 256.40,93.01 256.65,92.90 256.90,92.95 257.15,93.13 257.40,93.48 257.65,93.97 257.90,94.64 258.15,95.46 258.40,96.45 258.65,97.61 258.90,98.94 259.15,100.43 259.40,102.08 259.65,103.88 259.90,105.83 260.15,107.90 260.40,110.09 260.65,112.38 260.90,114.76 261.15,117.20 261.40,119.68 261.65,122.20 261.90,124.73 262.15,127.25 262.40,129.74 262.65,132.20 262.90,134.61 263.15,136.97 263.40,139.25 263.65,141.45 263.90,143.57 264.15,145.61 264.40,147.55 264.65,149.39 264.90,151.14 265.15,152.79 265.40,154.34 265.65,155.79 265.90,157.13 266.15,158.38 266.40,159.53 266.65,160.58 266.90,161.54 267.15,162.39 267.40,163.15 267.65,163.82 267.90,164.38 268.15,164.85 268.40,165.22 268.65,165.51 268.90,165.69 269.15,165.79 269.40,165.79 269.65,165.70 269.90,165.52 270.15,165.25 270.40,164.90 270.65,164.45 270.90,163.92 271.15,163.30 271.40,162.60 271.65,161.82 271.90,160.95 272.15,160.01 272.40,158.99 272.65,157.90 272.90,156.75 273.15,155.52 273.40,154.23 273.65,152.88 273.90,151.47 274.15,150.01 274.40,148.51 274.65,146.95 274.90,145.36 275.15,143.73 275.40,142.06 275.65,140.37 275.90,138.65 276.15,136.91 276.40,135.15 276.65,133.38 276.90,131.60 277.15,129.82 277.40,128.04 277.65,126.25 277.90,124.48 278.15,122.72 278.40,120.97 278.65,119.24 278.90,117.53 279.15,115.85 279.40,114.20 279.65,112.58 279.90,111.01 280.15,109.47 280.40,107.99 280.65,106.55 280.90,105.17 281.15,103.86 281.40,102.61 281.65,101.43 281.90,100.33 282.15,99.30 282.40,98.37 282.65,97.52 282.90,96.78 283.15,96.14 283.40,95.61 283.65,95.19 283.90,94.90 284.15,94.73 284.40,94.70 284.65,94.80 284.90,95.04 285.15,95.41 285.40,95.94 285.65,96.61 285.90,97.44 286.15,98.41 286.40,99.54 286.65,100.83 286.90,102.25 287.15,103.82 287.40,105.53 287.65,107.36 287.90,109.32 288.15,111.38 288.40,113.53 288.65,115.76 288.90,118.06 289.15,120.40 289.40,122.78 289.65,125.18 289.90,127.59 290.15,129.98 290.40,132.35 290.65,134.68 290.90,136.97 291.15,139.20 291.40,141.37 291.65,143.46 291.90,145.48 292.15,147.42 292.40,149.26 292.65,151.02 292.90,152.68 293.15,154.25 293.40,155.72 293.65,157.09 293.90,158.36 294.15,159.53 294.40,160.60 294.65,161.57 294.90,162.44 295.15,163.21 295.40,163.88 295.65,164.44 295.90,164.91 296.15,165.28 296.40,165.55 296.65,165.73 296.90,165.81 297.15,165.79 297.40,165.67 297.65,165.46 297.90,165.16 298.15,164.77 298.40,164.29 298.65,163.72 298.90,163.06 299.15,162.32 299.40,161.50 299.65,160.60 299.90,159.62 300.15,158.57 300.40,157.45 300.65,156.26 300.90,155.01 301.15,153.70 301.40,152.32 301.65,150.90 301.90,149.42 302.15,147.90 302.40,146.34 302.65,144.74 302.90,143.11 303.15,141.44 303.40,139.75 303.65,138.03 303.90,136.30 304.15,134.56 304.40,132.80 304.65,131.04 304.90,129.27 305.15,127.51 305.40,125.75 305.65,124.00 305.90,122.26 306.15,120.54 306.40,118.84 306.65,117.17 306.90,115.52 307.15,113.91 307.40,112.34 307.65,110.80 307.90,109.31 308.15,107.87 308.40,106.49 308.65,105.16 308.90,103.90 309.15,102.70 309.40,101.57 309.65,100.53 309.90,99.56 310.15,98.68 310.40,97.90 310.65,97.21 310.90,96.62 311.15,96.14 311.40,95.78 311.65,95.53 311.90,95.41 312.15,95.42 312.40,95.56 312.65,95.83 312.90,96.23 313.15,96.77 313.40,97.44 313.65,98.26 313.90,99.22 314.15,100.32 314.40,101.55 314.65,102.92 314.90,104.42 315.15,106.05 315.40,107.80 315.65,109.65 315.90,111.61 316.15,113.65 316.40,115.78 316.65,117.97 316.90,120.22 317.15,122.51 317.40,124.83 317.65,127.16 317.90,129.49 318.15,131.82 318.40,134.12 318.65,136.39 318.90,138.62 319.15,140.79 319.40,142.91 319.65,144.96 319.90,146.93 320.15,148.82 320.40,150.63 320.65,152.35 320.90,153.97 321.15,155.50 321.40,156.93 321.65,158.26 321.90,159.48 322.15,160.60 322.40,161.62 322.65,162.53 322.90,163.33 323.15,164.03 323.40,164.62 323.65,165.11 323.90,165.49 324.15,165.77 324.40,165.94 324.65,166.01 324.90,165.98 325.15,165.85 325.40,165.63 325.65,165.30 325.90,164.88 326.15,164.37 326.40,163.77 326.65,163.08 326.90,162.31 327.15,161.46 327.40,160.52 327.65,159.51 327.90,158.43 328.15,157.28 328.40,156.06 328.65,154.78 328.90,153.44 329.15,152.05 329.40,150.61 329.65,149.11 329.90,147.58 330.15,146.00 330.40,144.39 330.65,142.75 330.90,141.08 331.15,139.38 331.40,137.67 331.65,135.94 331.90,134.20 332.15,132.45 332.40,130.69 332.65,128.94 332.90,127.19 333.15,125.44 333.40,123.71 333.65,121.99 333.90,120.30 334.15,118.62 334.40,116.98 334.65,115.36 334.90,113.78 335.15,112.24 335.40,110.74 335.65,109.29 335.90,107.89 336.15,106.55 336.40,105.27 336.65,104.05 336.90,102.90 337.15,101.82 337.40,100.82 337.65,99.90 337.90,99.07 338.15,98.34 338.40,97.70 338.65,97.16 338.90,96.72 339.15,96.40 339.40,96.19 339.65,96.10 339.90,96.14 340.15,96.29 340.40,96.56 340.65,96.97 340.90,97.49 341.15,98.15 341.40,98.94 341.65,99.85 341.90,100.90 342.15,102.07 342.40,103.36 342.65,104.78 342.90,106.31 343.15,107.96 343.40,109.71 343.65,111.56 343.90,113.49 344.15,115.51 344.40,117.60 344.65,119.75 344.90,121.95 345.15,124.18 345.40,126.45 345.65,128.73 345.90,131.01 346.15,133.29 346.40,135.55 346.65,137.78 346.90,139.98 347.15,142.12 347.40,144.21 347.65,146.23 347.90,148.19 348.15,150.06 348.40,151.85 348.65,153.55 348.90,155.15 349.15,156.65 349.40,158.06 349.65,159.35 349.90,160.54 350.15,161.62 350.40,162.59 350.65,163.45 350.90,164.19 351.15,164.82 351.40,165.34 351.65,165.75 351.90,166.04 352.15,166.23 352.40,166.31 352.65,166.28 352.90,166.14 353.15,165.91 353.40,165.57 353.65,165.14 353.90,164.61 354.15,163.99 354.40,163.28 354.65,162.48 354.90,161.60 355.15,160.64 355.40,159.61 355.65,158.50 355.90,157.33 356.15,156.08 356.40,154.78 356.65,153.42 356.90,152.01 357.15,150.55 357.40,149.04 357.65,147.49 357.90,145.90 358.15,144.28 358.40,142.62 358.65,140.94 358.90,139.24 359.15,137.52 359.40,135.79 359.65,134.05 359.90,132.30 360.15,130.55 360.40,128.79 360.65,127.05 360.90,125.31 361.15,123.59 361.40,121.89 361.65,120.20 361.90,118.54 362.15,116.91 362.40,115.32 362.65,113.76 362.90,112.24 363.15,110.76 363.40,109.34 363.65,107.97 363.90,106.65 364.15,105.40 364.40,104.21 364.65,103.10 364.90,102.05 365.15,101.09 365.40,100.21 365.65,99.41 365.90,98.70 366.15,98.09 366.40,97.58 366.65,97.17 366.90,96.87 367.15,96.68 367.40,96.60 367.65,96.64 367.90,96.79 368.15,97.06 368.40,97.44 368.65,97.94 368.90,98.56 369.15,99.30 369.40,100.16 369.65,101.14 369.90,102.23 370.15,103.44 370.40,104.76 370.65,106.20 370.90,107.73 371.15,109.37 371.40,111.11 371.65,112.93 371.90,114.84 372.15,116.82 372.40,118.87 372.65,120.97 372.90,123.13 373.15,125.33 373.40,127.55 373.65,129.79 373.90,132.05 374.15,134.30 374.40,136.53 374.65,138.75 374.90,140.93 375.15,143.06 375.40,145.14 375.65,147.16 375.90,149.11"/>
<polyline class="c" stroke="#00ffff" points="90.90,218.97 91.15,218.99 91.40,219.02 91.65,219.05 91.90,219.08 92.15,219.11 92.40,219.15 92.65,219.18 92.90,219.22 93.15,219.27 93.40,219.31 93.65,219.36 93.90,219.41 94.15,219.47 94.40,219.52 94.65,219.58 94.90,219.64 95.15,219.70 95.40,219.77 95.65,219.83 95.90,219.90 96.15,219.97 96.40,220.04 96.65,220.11 96.90,220.18 97.15,220.26 97.40,220.33 97.65,220.41 97.90,220.48 98.15,220.56 98.40,220.64 98.65,220.72 98.90,220.80 99.15,220.88 99.40,220.96 99.65,221.03 99.90,221.11 100.15,221.19 100.40,221.27 100.65,221.34 100.90,221.42 101.15,221.49 101.40,221.57 101.65,221.64 101.90,221.70 102.15,221.77 102.40,221.83 102.65,221.88 102.90,221.89 103.15,221.84 103.40,221.78 103.65,221.72 103.90,221.65 104.15,221.58 104.40,221.51 104.65,221.44 104.90,221.36 105.15,221.29 105.40,221.21 105.65,221.13 105.90,221.05 106.15,220.97 106.40,220.89 106.65,220.82 106.90,220.74 107.15,220.66 107.40,220.58 107.65,220.50 107.90,220.43 108.15,220.35 108.40,220.27 108.65,220.20 108.90,220.13 109.15,220.06 109.40,219.99 109.65,219.92 109.90,219.85 110.15,219.78 110.40,219.72 110.65,219.66 110.90,219.60 111.15,219.54 111.40,219.48 111.65,219.43 111.90,219.38 112.15,219.33 112.40,219.28 112.65,219.24 112.90,219.20 113.15,219.16 113.40,219.12 113.65,219.09 113.90,219.05 114.15,219.03 114.40,219.00 114.65,218.98 114.90,218.96 115.15,218.94 115.40,218.93 115.65,218.92 115.90,218.91 116.15,218.90 116.40,218.90 116.65,218.90 116.90,218.90 117.15,218.91 117.40,218.92 117.65,218.93 117.90,218.95 118.15,218.97 118.40,218.99 118.65,219.01 118.90,219.04 119.15,219.07 119.40,219.10 119.65,219.14 119.90,219.17 120.15,219.21 120.40,219.26 120.65,219.30 120.90,219.35 121.15,219.40 121.40,219.45 121.65,219.51 121.90,219.57 122.15,219.62 122.40,219.69 122.65,219.75 122.90,219.81 123.15,219.88 123.40,219.95 123.65,220.02 123.90,220.09 124.15,220.16 124.40,220.23 124.65,220.31 124.90,220.38 125.15,220.46 125.40,220.54 125.65,220.62 125.90,220.69 126.15,220.77 126.40,220.85 126.65,220.93 126.90,221.01 127.15,221.09 127.40,221.17 127.65,221.24 127.90,221.32 128.15,221.40 128.40,221.47 128.65,221.54 128.90,221.61 129.15,221.68 129.40,221.75 129.65,221.81 129.90,221.86 130.15,221.90 130.40,221.85 130.65,221.80 130.90,221.74 131.15,221.67 131.40,221.61 131.65,221.54 131.90,221.46 132.15,221.39 132.40,221.31 132.65,221.24 132.90,221.16 133.15,221.08 133.40,221.00 133.65,220.92 133.90,220.85 134.15,220.77 134.40,220.69 134.65,220.61 134.90,220.53 135.15,220.46 135.40,220.38 135.65,220.30 135.90,220.23 136.15,220.16 136.40,220.08 136.65,220.01 136.90,219.94 137.15,219.88 137.40,219.81 137.65,219.75 137.90,219.68 138.15,219.62 138.40,219.56 138.65,219.51 138.90,219.45 139.15,219.40 139.40,219.35 139.65,219.30 139.90,219.26 140.15,219.21 140.40,219.17 140.65,219.14 140.90,219.10 141.15,219.07 141.40,219.04 141.65,219.01 141.90,218.99 142.15,218.97 142.40,218.95 142.65,218.93 142.90,218.92 143.15,218.91 143.40,218.90 143.65,218.90 143.90,218.90 144.15,218.90 144.40,218.91 144.65,218.92 144.90,218.93 145.15,218.94 145.40,218.96 145.65,218.98 145.90,219.00 146.15,219.03 146.40,219.05 146.65,219.08 146.90,219.12 147.15,219.15 147.40,219.19 147.65,219.24 147.90,219.28 148.15,219.33 148.40,219.37 148.65,219.43 148.90,219.48 149.15,219.53 149.40,219.59 149.65,219.65 149.90,219.71 150.15,219.78 150.40,219.84 150.65,219.91 150.90,219.98 151.15,220.05 151.40,220.12 151.65,220.19 151.90,220.27 152.15,220.34 152.40,220.42 152.65,220.49 152.90,220.57 153.15,220.65 153.40,220.73 153.65,220.81 153.90,220.89 154.15,220.96 154.40,221.04 154.65,221.12 154.90,221.20 155.15,221.28 155.40,221.35 155.65,221.43 155.90,221.50 156.15,221.57 156.40,221.64 156.65,221.71 156.90,221.77 157.15,221.83 157.40,221.88 157.65,221.88 157.90,221.83 158.15,221.78 158.40,221.71 158.65,221.65 158.90,221.58 159.15,221.51 159.40,221.44 159.65,221.36 159.90,221.29 160.15,221.21 160.40,221.13 160.65,221.05 160.90,220.98 161.15,220.90 161.40,220.82 161.65,220.74 161.90,220.66 162.15,220.58 162.40,220.51 162.65,220.43 162.90,220.35 163.15,220.28 163.40,220.21 163.65,220.13 163.90,220.06 164.15,219.99 164.40,219.92 164.65,219.86 164.90,219.79 165.15,219.73 165.40,219.66 165.65,219.60 165.90,219.55 166.15,219.49 166.40,219.44 166.65,219.39 166.90,219.34 167.15,219.29 167.40,219.24 167.65,219.20 167.90,219.16 168.15,219.13 168.40,219.09 168.65,219.06 168.90,219.03 169.15,219.01 169.40,218.98 169.65,218.96 169.90,218.94 170.15,218.93 170.40,218.92 170.65,218.91 170.90,218.90 171.15,218.90 171.40,218.90 171.65,218.90 171.90,218.91 172.15,218.92 172.40,218.93 172.65,218.94 172.90,218.96 173.15,218.98 173.40,219.01 173.65,219.03 173.90,219.06 174.15,219.09 174.40,219.13 174.65,219.16 174.90,219.20 175.15,219.24 175.40,219.29 175.65,219.34 175.90,219.38 176.15,219.44 176.40,219.49 176.65,219.55 176.90,219.60 177.15,219.66 177.40,219.73 177.65,219.79 177.90,219.85 178.15,219.92 178.40,219.99 178.65,220.06 178.90,220.13 179.15,220.20 179.40,220.28 179.65,220.35 179.90,220.43 180.15,220.51 180.40,220.58 180.65,220.66 180.90,220.74 181.15,220.82 181.40,220.90 181.65,220.97 181.90,221.05 182.15,221.13 182.40,221.21 182.65,221.28 182.90,221.36 183.15,221.43 183.40,221.51 183.65,221.58 183.90,221.65 184.15,221.71 184.40,221.78 184.65,221.83 184.90,221.88 185.15,221.88 185.40,221.83 185.65,221.77 185.90,221.71 186.15,221.64 186.40,221.57 186.65,221.50 186.90,221.43 187.15,221.36 187.40,221.28 187.65,221.20 187.90,221.13 188.15,221.05 188.40,220.97 188.65,220.89 188.90,220.81 189.15,220.74 189.40,220.66 189.65,220.58 189.90,220.50 190.15,220.43 190.40,220.35 190.65,220.28 190.90,220.20 191.15,220.13 191.40,220.06 191.65,219.99 191.90,219.92 192.15,219.85 192.40,219.79 192.65,219.73 192.90,219.66 193.15,219.60 193.40,219.55 193.65,219.49 193.90,219.44 194.15,219.38 194.40,219.34 194.65,219.29 194.90,219.24 195.15,219.20 195.40,219.16 195.65,219.13 195.90,219.09 196.15,219.06 196.40,219.03 196.65,219.01 196.90,218.98 197.15,218.96 197.40,218.94 197.65,218.93 197.90,218.92 198.15,218.91 198.40,218.90 198.65,218.90 198.90,218.90 199.15,218.90 199.40,218.91 199.65,218.92 199.90,218.93 200.15,218.94 200.40,218.96 200.65,218.98 200.90,219.00 201.15,219.03 201.40,219.06 201.65,219.09 201.90,219.12 202.15,219.16 202.40,219.20 202.65,219.24 202.90,219.28 203.15,219.33 203.40,219.38 203.65,219.43 203.90,219.48 204.15,219.54 204.40,219.60 204.65,219.66 204.90,219.72 205.15,219.78 205.40,219.85 205.65,219.91 205.90,219.98 206.15,220.05 206.40,220.12 206.65,220.20 206.90,220.27 207.15,220.34 207.40,220.42 207.65,220.50 207.90,220.57 208.15,220.65 208.40,220.73 208.65,220.81 208.90,220.88 209.15,220.96 209.40,221.04 209.65,221.12 209.90,221.20 210.15,221.27 210.40,221.35 210.65,221.42 210.90,221.50 211.15,221.57 211.40,221.64 211.65,221.70 211.90,221.77 212.15,221.82 212.40,221.88 212.65,221.89 212.90,221.84 213.15,221.78 213.40,221.72 213.65,221.66 213.90,221.59 214.15,221.52 214.40,221.44 214.65,221.37 214.90,221.30 215.15,221.22 215.40,221.14 215.65,221.07 215.90,220.99 216.15,220.91 216.40,220.83 216.65,220.75 216.90,220.68 217.15,220.60 217.40,220.52 217.65,220.44 217.90,220.37 218.15,220.29 218.40,220.22 218.65,220.15 218.90,220.08 219.15,220.01 219.40,219.94 219.65,219.87 219.90,219.81 220.15,219.74 220.40,219.68 220.65,219.62 220.90,219.56 221.15,219.50 221.40,219.45 221.65,219.40 221.90,219.35 222.15,219.30 222.40,219.26 222.65,219.21 222.90,219.17 223.15,219.14 223.40,219.10 223.65,219.07 223.90,219.04 224.15,219.01 224.40,218.99 224.65,218.97 224.90,218.95 225.15,218.93 225.40,218.92 225.65,218.91 225.90,218.91 226.15,218.90 226.40,218.90 226.65,218.90 226.90,218.91 227.15,218.91 227.40,218.92 227.65,218.94 227.90,218.95 228.15,218.97 228.40,219.00 228.65,219.02 228.90,219.05 229.15,219.08 229.40,219.11 229.65,219.15 229.90,219.18 230.15,219.23 230.40,219.27 230.65,219.31 230.90,219.36 231.15,219.41 231.40,219.46 231.65,219.52 231.90,219.58 232.15,219.63 232.40,219.70 232.65,219.76 232.90,219.82 233.15,219.89 233.40,219.96 233.65,220.02 233.90,220.10 234.15,220.17 234.40,220.24 234.65,220.31 234.90,220.39 235.15,220.46 235.40,220.54 235.65,220.62 235.90,220.70 236.15,220.77 236.40,220.85 236.65,220.93 236.90,221.01 237.15,221.09 237.40,221.16 237.65,221.24 237.90,221.32 238.15,221.39 238.40,221.46 238.65,221.54 238.90,221.61 239.15,221.67 239.40,221.74 239.65,221.80 239.90,221.85 240.15,221.90 240.40,221.86 240.65,221.81 240.90,221.75 241.15,221.69 241.40,221.62 241.65,221.55 241.90,221.48 242.15,221.41 242.40,221.33 242.65,221.26 242.90,221.18 243.15,221.10 243.40,221.03 243.65,220.95 243.90,220.87 244.15,220.79 244.40,220.71 244.65,220.64 244.90,220.56 245.15,220.48 245.40,220.41 245.65,220.33 245.90,220.26 246.15,220.19 246.40,220.11 246.65,220.04 246.90,219.97 247.15,219.91 247.40,219.84 247.65,219.78 247.90,219.71 248.15,219.65 248.40,219.59 248.65,219.54 248.90,219.48 249.15,219.43 249.40,219.38 249.65,219.33 249.90,219.28 250.15,219.24 250.40,219.20 250.65,219.16 250.90,219.12 251.15,219.09 251.40,219.06 251.65,219.03 251.90,219.00 252.15,218.98 252.40,218.96 252.65,218.94 252.90,218.93 253.15,218.92 253.40,218.91 253.65,218.90 253.90,218.90 254.15,218.90 254.40,218.90 254.65,218.91 254.90,218.92 255.15,218.93 255.40,218.94 255.65,218.96 255.90,218.98 256.15,219.00 256.40,219.03 256.65,219.06 256.90,219.09 257.15,219.12 257.40,219.16 257.65,219.20 257.90,219.24 258.15,219.28 258.40,219.33 258.65,219.38 258.90,219.43 259.15,219.48 259.40,219.54 259.65,219.60 259.90,219.66 260.15,219.72 260.40,219.78 260.65,219.84 260.90,219.91 261.15,219.98 261.40,220.05 261.65,220.12 261.90,220.19 262.15,220.26 262.40,220.34 262.65,220.41 262.90,220.49 263.15,220.56 263.40,220.64 263.65,220.72 263.90,220.80 264.15,220.87 264.40,220.95 264.65,221.03 264.90,221.11 265.15,221.18 265.40,221.26 265.65,221.34 265.90,221.41 266.15,221.48 266.40,221.55 266.65,221.62 266.90,221.69 267.15,221.75 267.40,221.81 267.65,221.87 267.90,221.90 268.15,221.85 268.40,221.80 268.65,221.73 268.90,221.67 269.15,221.60 269.40,221.53 269.65,221.46 269.90,221.39 270.15,221.31 270.40,221.24 270.65,221.16 270.90,221.09 271.15,221.01 271.40,220.93 271.65,220.85 271.90,220.78 272.15,220.70 272.40,220.62 272.65,220.54 272.90,220.47 273.15,220.39 273.40,220.32 273.65,220.24 273.90,220.17 274.15,220.10 274.40,220.03 274.65,219.96 274.90,219.89 275.15,219.83 275.40,219.76 275.65,219.70 275.90,219.64 276.15,219.58 276.40,219.53 276.65,219.47 276.90,219.42 277.15,219.37 277.40,219.32 277.65,219.27 277.90,219.23 278.15,219.19 278.40,219.15 278.65,219.12 278.90,219.08 279.15,219.05 279.40,219.02 279.65,219.00 279.90,218.98 280.15,218.96 280.40,218.94 280.65,218.93 280.90,218.92 281.15,218.91 281.40,218.90 281.65,218.90 281.90,218.90 282.15,218.90 282.40,218.91 282.65,218.92 282.90,218.93 283.15,218.95 283.40,218.96 283.65,218.98 283.90,219.01 284.15,219.03 284.40,219.06 284.65,219.09 284.90,219.13 285.15,219.16 285.40,219.20 285.65,219.24 285.90,219.29 286.15,219.33 286.40,219.38 286.65,219.43 286.90,219.49 287.15,219.54 287.40,219.60 287.65,219.66 287.90,219.72 288.15,219.78 288.40,219.85 288.65,219.91 288.90,219.98 289.15,220.05 289.40,220.12 289.65,220.19 289.90,220.27 290.15,220.34 290.40,220.41 290.65,220.49 290.90,220.57 291.15,220.64 291.40,220.72 291.65,220.80 291.90,220.88 292.15,220.95 292.40,221.03 292.65,221.11 292.90,221.19 293.15,221.26 293.40,221.34 293.65,221.41 293.90,221.48 294.15,221.55 294.40,221.62 294.65,221.69 294.90,221.75 295.15,221.81 295.40,221.87 295.65,221.90 295.90,221.85 296.15,221.80 296.40,221.74 296.65,221.67 296.90,221.61 297.15,221.54 297.40,221.46 297.65,221.39 297.90,221.32 298.15,221.24 298.40,221.17 298.65,221.09 298.90,221.01 299.15,220.93 299.40,220.86 299.65,220.78 299.90,220.70 300.15,220.63 300.40,220.55 300.65,220.47 300.90,220.40 301.15,220.32 301.40,220.25 301.65,220.18 301.90,220.11 302.15,220.04 302.40,219.97 302.65,219.90 302.90,219.83 303.15,219.77 303.40,219.71 303.65,219.65 303.90,219.59 304.15,219.53 304.40,219.48 304.65,219.42 304.90,219.37 305.15,219.33 305.40,219.28 305.65,219.24 305.90,219.20 306.15,219.16 306.40,219.12 306.65,219.09 306.90,219.06 307.15,219.03 307.40,219.00 307.65,218.98 307.90,218.96 308.15,218.94 308.40,218.93 308.65,218.92 308.90,218.91 309.15,218.90 309.40,218.90 309.65,218.90 309.90,218.90 310.15,218.91 310.40,218.92 310.65,218.93 310.90,218.94 311.15,218.96 311.40,218.98 311.65,219.00 311.90,219.03 312.15,219.06 312.40,219.09 312.65,219.12 312.90,219.16 313.15,219.19 313.40,219.24 313.65,219.28 313.90,219.32 314.15,219.37 314.40,219.42 314.65,219.48 314.90,219.53 315.15,219.59 315.40,219.65 315.65,219.71 315.90,219.77 316.15,219.83 316.40,219.90 316.65,219.97 316.90,220.03 317.15,220.10 317.40,220.18 317.65,220.25 317.90,220.32 318.15,220.40 318.40,220.47 318.65,220.55 318.90,220.62 319.15,220.70 319.40,220.78 319.65,220.86 319.90,220.93 320.15,221.01 320.40,221.09 320.65,221.16 320.90,221.24 321.15,221.32 321.40,221.39 321.65,221.46 321.90,221.53 322.15,221.60 322.40,221.67 322.65,221.74 322.90,221.80 323.15,221.85 323.40,221.90 323.65,221.87 323.90,221.81 324.15,221.76 324.40,221.69 324.65,221.63 324.90,221.56 325.15,221.49 325.40,221.42 325.65,221.34 325.90,221.27 326.15,221.19 326.40,221.11 326.65,221.04 326.90,220.96 327.15,220.88 327.40,220.81 327.65,220.73 327.90,220.65 328.15,220.58 328.40,220.50 328.65,220.42 328.90,220.35 329.15,220.28 329.40,220.20 329.65,220.13 329.90,220.06 330.15,219.99 330.40,219.92 330.65,219.86 330.90,219.79 331.15,219.73 331.40,219.67 331.65,219.61 331.90,219.55 332.15,219.50 332.40,219.44 332.65,219.39 332.90,219.34 333.15,219.30 333.40,219.25 333.65,219.21 333.90,219.17 334.15,219.14 334.40,219.10 334.65,219.07 334.90,219.04 335.15,219.01 335.40,218.99 335.65,218.97 335.90,218.95 336.15,218.93 336.40,218.92 336.65,218.91 336.90,218.91 337.15,218.90 337.40,218.90 337.65,218.90 337.90,218.91 338.15,218.91 338.40,218.92 338.65,218.94 338.90,218.95 339.15,218.97 339.40,218.99 339.65,219.02 339.90,219.04 340.15,219.07 340.40,219.10 340.65,219.14 340.90,219.18 341.15,219.22 341.40,219.26 341.65,219.30 341.90,219.35 342.15,219.40 342.40,219.45 342.65,219.50 342.90,219.56 343.15,219.62 343.40,219.68 343.65,219.74 343.90,219.80 344.15,219.86 344.40,219.93 344.65,220.00 344.90,220.07 345.15,220.14 345.40,220.21 345.65,220.28 345.90,220.36 346.15,220.43 346.40,220.51 346.65,220.58 346.90,220.66 347.15,220.74 347.40,220.81 347.65,220.89 347.90,220.97 348.15,221.05 348.40,221.12 348.65,221.20 348.90,221.27 349.15,221.35 349.40,221.42 349.65,221.49 349.90,221.57 350.15,221.63 350.40,221.70 350.65,221.76 350.90,221.82 351.15,221.87 351.40,221.89 351.65,221.85 351.90,221.79 352.15,221.73 352.40,221.67 352.65,221.60 352.90,221.53 353.15,221.46 353.40,221.39 353.65,221.31 353.90,221.24 354.15,221.16 354.40,221.09 354.65,221.01 354.90,220.93 355.15,220.85 355.40,220.78 355.65,220.70 355.90,220.62 356.15,220.55 356.40,220.47 356.65,220.40 356.90,220.32 357.15,220.25 357.40,220.18 357.65,220.11 357.90,220.04 358.15,219.97 358.40,219.90 358.65,219.84 358.90,219.77 359.15,219.71 359.40,219.65 359.65,219.59 359.90,219.53 360.15,219.48 360.40,219.43 360.65,219.38 360.90,219.33 361.15,219.28 361.40,219.24 361.65,219.20 361.90,219.16 362.15,219.12 362.40,219.09 362.65,219.06 362.90,219.03 363.15,219.01 363.40,218.98 363.65,218.96 363.90,218.95 364.15,218.93 364.40,218.92 364.65,218.91 364.90,218.90 365.15,218.90 365.40,218.90 365.65,218.90 365.90,218.91 366.15,218.92 366.40,218.93 366.65,218.94 366.90,218.96 367.15,218.98 367.40,219.00 367.65,219.02 367.90,219.05 368.15,219.08 368.40,219.11 368.65,219.15 368.90,219.19 369.15,219.23 369.40,219.27 369.65,219.31 369.90,219.36 370.15,219.41 370.40,219.46 370.65,219.52 370.90,219.57 371.15,219.63 371.40,219.69 371.65,219.75 371.90,219.81 372.15,219.88 372.40,219.95 372.65,220.01 372.90,220.08 373.15,220.15 373.40,220.22 373.65,220.30 373.90,220.37 374.15,220.45 374.40,220.52 374.65,220.60 374.90,220.67 375.15,220.75 375.40,220.83"/>
<rect x="90.9" y="15.5" width="296.1" height="206.55" fill="none" stroke="#000" stroke-width="1.3"/>
<path d="M91.00,222.05 v-3.2 M91.00,15.5 v3.2 M130.50,222.05 v-3.2 M130.50,15.5 v3.2 M170.00,222.05 v-3.2 M170.00,15.5 v3.2 M209.50,222.05 v-3.2 M209.50,15.5 v3.2 M249.00,222.05 v-3.2 M249.00,15.5 v3.2 M288.50,222.05 v-3.2 M288.50,15.5 v3.2 M328.00,222.05 v-3.2 M328.00,15.5 v3.2 M367.50,222.05 v-3.2 M367.50,15.5 v3.2 M90.9,222.05 h3.2 M387.0,222.05 h-3.2 M90.9,191.73 h3.2 M387.0,191.73 h-3.2 M90.9,161.41 h3.2 M387.0,161.41 h-3.2 M90.9,131.09 h3.2 M387.0,131.09 h-3.2 M90.9,100.77 h3.2 M387.0,100.77 h-3.2 M90.9,70.45 h3.2 M387.0,70.45 h-3.2 M90.9,40.13 h3.2 M387.0,40.13 h-3.2" stroke="#000" stroke-width="1.1" fill="none"/>
<g class="t"><text x="85.2" y="225.80" text-anchor="end">0</text><text x="85.2" y="195.48" text-anchor="end">0.0001</text><text x="85.2" y="165.16" text-anchor="end">0.0002</text><text x="85.2" y="134.84" text-anchor="end">0.0003</text><text x="85.2" y="104.52" text-anchor="end">0.0004</text><text x="85.2" y="74.20" text-anchor="end">0.0005</text><text x="85.2" y="43.88" text-anchor="end">0.0006</text><text x="92.20" y="234.9" text-anchor="middle">100000</text><text x="131.70" y="234.9" text-anchor="middle">110000</text><text x="171.20" y="234.9" text-anchor="middle">120000</text><text x="210.70" y="234.9" text-anchor="middle">130000</text><text x="250.20" y="234.9" text-anchor="middle">140000</text><text x="289.70" y="234.9" text-anchor="middle">150000</text><text x="329.20" y="234.9" text-anchor="middle">160000</text><text x="368.70" y="234.9" text-anchor="middle">170000</text></g>
<g class="l">
<text x="97.2" y="36.8" dx="0 0 0 0 0 -1.2 1.0 0.9 0.9">case 'ff'</text>
<text x="328.7" y="29.3" text-anchor="end" letter-spacing="0.08">kinetic energy n = 1</text>
<text x="328.6" y="42.6" text-anchor="end">n = 2</text>
<text x="328.7" y="55.9" text-anchor="end" letter-spacing="0.08">magnetic energy n = 1</text>
<text x="328.6" y="69.2" text-anchor="end">n = 2</text>
<text x="239.3" y="250.8" text-anchor="middle" xml:space="preserve">time  [<tspan dx="-0.5">&#964;</tspan><tspan font-size="10.4" dy="4.6" dx="0.3">A</tspan><tspan dy="-4.6" dx="0.6">]</tspan></text>
<text transform="translate(41.3,118.2) rotate(-90)" text-anchor="middle">energy [a.u.]</text>
</g>
<g fill="none" stroke-width="1.25">
<path d="M336.3,25.1 H371.2" stroke="#ff0000"/>
<path d="M336.3,38.3 H371.2" stroke="#ffa500"/>
<path d="M336.3,51.45 H371.2" stroke="#0000ff"/>
<path d="M336.3,64.65 H371.2" stroke="#00ffff"/>
</g>
</svg>
</body></html>
